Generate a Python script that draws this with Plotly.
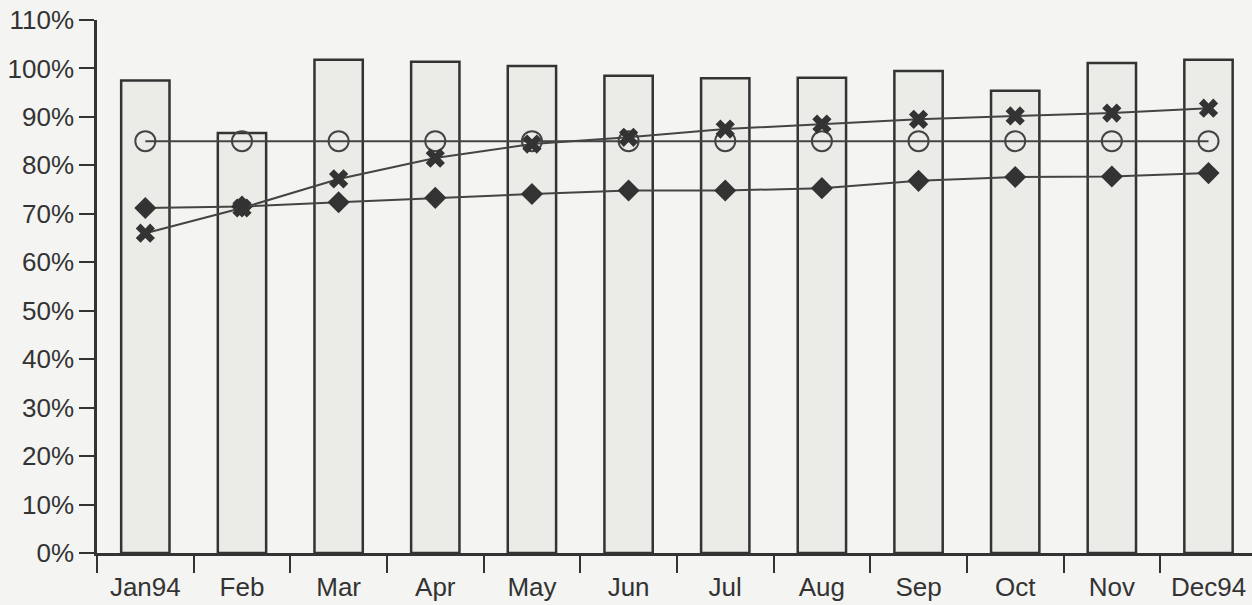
import plotly.graph_objects as go

months = ["Jan94", "Feb", "Mar", "Apr", "May", "Jun", "Jul", "Aug", "Sep", "Oct", "Nov", "Dec94"]
bar_values = [97.5, 86.7, 101.8, 101.4, 100.5, 98.5, 98.0, 98.1, 99.5, 95.4, 101.1, 101.8]
target_values = [85, 85, 85, 85, 85, 85, 85, 85, 85, 85, 85, 85]
diamond_values = [71.2, 71.5, 72.4, 73.3, 74.1, 74.8, 74.8, 75.3, 76.8, 77.6, 77.7, 78.4]
star_values = [66.0, 71.2, 77.2, 81.5, 84.4, 85.8, 87.5, 88.5, 89.5, 90.2, 90.8, 91.8]
y_ticks = [0, 10, 20, 30, 40, 50, 60, 70, 80, 90, 100, 110]
y_tick_labels = [f"{v}%" for v in y_ticks]

ink = "#333333"
line_col = "#444444"
bg = "#f4f4f2"

fig = go.Figure()
fig.add_trace(go.Bar(
    x=months, y=bar_values, width=0.5,
    marker=dict(color="#ebebe8", line=dict(color=ink, width=2.5)),
    showlegend=False,
))
fig.add_trace(go.Scatter(
    x=months, y=target_values, mode="lines+markers",
    line=dict(color=line_col, width=2),
    marker=dict(symbol="circle-open", size=20, color=line_col, line=dict(width=2, color=line_col)),
    showlegend=False,
))
fig.add_trace(go.Scatter(
    x=months, y=diamond_values, mode="lines+markers",
    line=dict(color=line_col, width=2),
    marker=dict(symbol="diamond", size=17, color=ink),
    showlegend=False,
))
fig.add_trace(go.Scatter(
    x=months, y=star_values, mode="lines+markers",
    line=dict(color=line_col, width=2),
    marker=dict(symbol="x", size=17, color=ink),
    showlegend=False,
))

fig.update_layout(
    width=1252, height=605,
    margin=dict(l=97, r=0, t=20, b=52),
    paper_bgcolor=bg, plot_bgcolor=bg,
    font=dict(family="Liberation Sans, Arial, sans-serif", size=26, color=ink),
    bargap=0.5,
)
fig.update_xaxes(
    type="category", range=[-0.5, 11.45],
    showline=True, linecolor=ink, linewidth=2.5,
    ticks="outside", tickson="boundaries", ticklen=17, tickwidth=2, tickcolor=ink,
    ticklabelstandoff=9,
    showgrid=False, zeroline=False,
)
fig.update_yaxes(
    range=[0, 110], tickvals=y_ticks, ticktext=y_tick_labels,
    showline=True, linecolor=ink, linewidth=2.5,
    ticks="outside", ticklen=15, tickwidth=2, tickcolor=ink,
    showgrid=False, zeroline=False,
)

fig.write_html(
    "out.html",
    config={"displayModeBar": False},
    post_script="document.body.style.margin='0';document.body.style.background='" + bg + "';",
)
